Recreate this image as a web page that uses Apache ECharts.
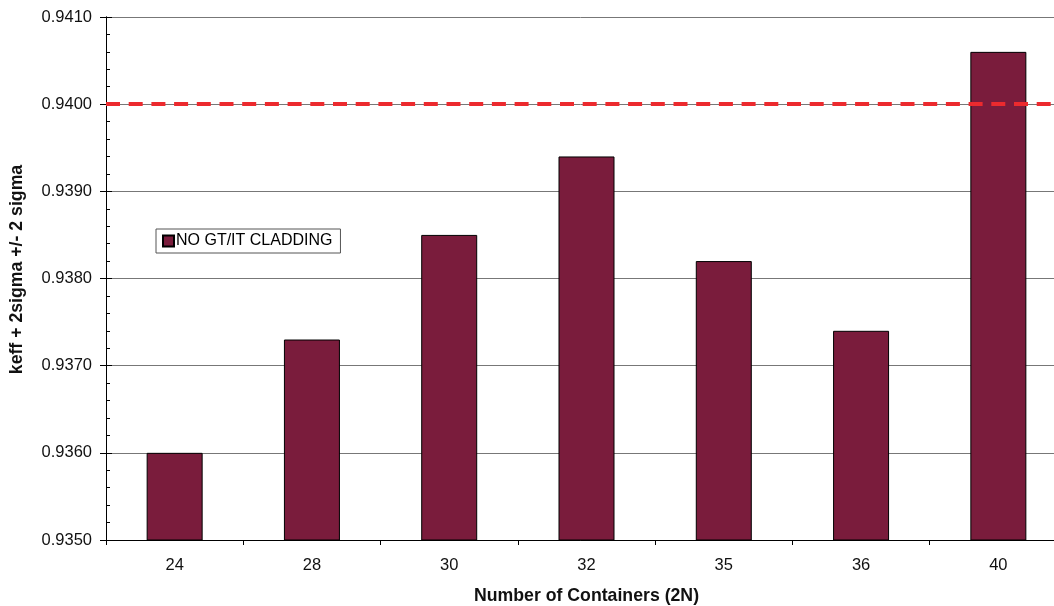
<!DOCTYPE html>
<html><head><meta charset="utf-8">
<script src="https://cdn.jsdelivr.net/npm/echarts@6/dist/echarts.min.js"></script>
<style>html,body{margin:0;padding:0;background:#fff}#c{width:1054px;height:606px}</style>
</head><body><div id="c"></div>
<script>
const categories = ['24','28','30','32','35','36','40'];
const values = [0.9360, 0.9373, 0.9385, 0.9394, 0.9382, 0.9374, 0.9406];
const seriesName = 'NO GT/IT CLADDING';
const limitValue = 0.9400;
const yMin = 0.9350, yMax = 0.9410, yStep = 0.0010;

const chart = echarts.init(document.getElementById('c'));
chart.setOption({
  animation: false,
  backgroundColor: '#ffffff',
  textStyle: { fontFamily: 'Liberation Sans, Arial, sans-serif' },
  grid: { left: 106, right: -13, top: 17, bottom: 66, outerBoundsMode: 'none', containLabel: false },
  legend: {
    show: true, left: 156, top: 229, orient: 'vertical',
    data: [seriesName],
    backgroundColor: '#fff', borderColor: '#555', borderWidth: 1,
    padding: [4, 8, 4, 6],
    itemWidth: 11, itemHeight: 11, itemGap: 4,
    icon: 'rect',
    textStyle: { fontSize: 16, color: '#000', padding: [0, 0, 0, -3] }
  },
  xAxis: {
    type: 'category', data: categories,
    name: 'Number of Containers (2N)', nameLocation: 'middle', nameGap: 47,
    nameTextStyle: { fontSize: 17.7, fontWeight: 'bold', color: '#111' },
    axisLine: { lineStyle: { color: '#000', width: 1 } },
    axisTick: { show: true, alignWithLabel: false, length: 5, lineStyle: { color: '#000' } },
    axisLabel: { fontSize: 16.5, color: '#111', margin: 17 },
    splitLine: { show: false }
  },
  yAxis: [{
    type: 'value', min: yMin, max: yMax, interval: yStep,
    name: 'keff + 2sigma +/- 2 sigma', nameLocation: 'middle', nameGap: 80, nameRotate: 90,
    nameTextStyle: { fontSize: 17.7, fontWeight: 'bold', color: '#111', padding: [0, 0, 0, 18] },
    axisLine: { show: true, lineStyle: { color: '#000', width: 1 } },
    axisTick: { show: true, inside: false, length: 6, lineStyle: { color: '#000' } },
    minorTick: { show: false },
    axisLabel: { fontSize: 16.5, color: '#111', margin: 14, formatter: v => v.toFixed(4) },
    splitLine: { show: true, lineStyle: { color: '#777', width: 1 } }
  }, {
    type: 'value', min: yMin, max: yMax, interval: yStep, position: 'left', offset: 0,
    axisLine: { show: true, lineStyle: { color: '#000', width: 1 } },
    axisTick: { show: true, inside: true, length: 6, lineStyle: { color: '#000' } },
    minorTick: { show: true, splitNumber: 5, length: 4, lineStyle: { color: '#000' } },
    axisLabel: { show: false },
    splitLine: { show: false }
  }],
  series: [{
    name: seriesName, type: 'bar', data: values, barWidth: 56,
    itemStyle: { color: '#7A1C3C', borderColor: '#000', borderWidth: 1 },
    markLine: {
      silent: true, symbol: 'none', label: { show: false },
      lineStyle: { color: '#EC2A2E', width: 4, type: [14, 8.7] },
      data: [{ yAxis: limitValue }]
    }
  }]
});
</script></body></html>
